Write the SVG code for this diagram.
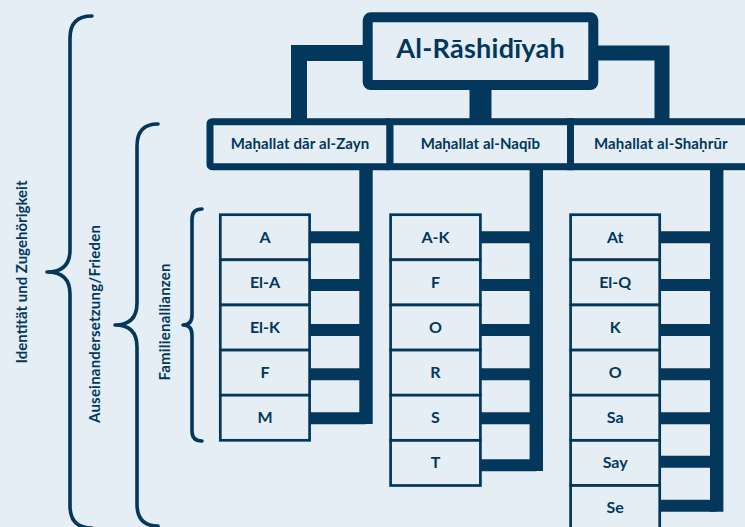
<svg xmlns="http://www.w3.org/2000/svg" width="745" height="527" viewBox="0 0 745 527">
<style>
.bg{fill:#e5eef5}
.box{fill:#e5eef5;stroke:#03375b}
.t{fill:#03375b;font-family:Lato,"Noto Sans","Open Sans",sans-serif;font-weight:700;text-anchor:middle}
.title{font-size:27px}
.l2{font-size:15px}
.l3{font-size:16px}
.side{font-size:15px}
.cell{stroke-width:2.7}
.conn{stroke:#03375b;fill:none;stroke-linecap:butt;stroke-linejoin:miter}
.stub{stroke-width:12}
.bus{stroke-width:13.4}
.brace{stroke:#03375b;fill:none;stroke-width:3.6;stroke-linecap:round;stroke-linejoin:round}
</style>
<rect class="bg" x="0" y="0" width="745" height="527"/>

<g id="connectors">
  <path class="conn" stroke-width="16" d="M370 53 H299 V124"/>
  <path class="conn" stroke-width="15" d="M591 53 H662 V124"/>
  <path class="conn" stroke-width="22" d="M480.5 86 V124"/>
  <path class="conn bus" d="M366 165 V424"/>
  <path class="conn stub" d="M310 237.2 H366 M310 285 H366 M310 330 H366 M310 374.3 H366 M310 418.2 H366"/>
  <path class="conn bus" d="M536.3 165 V471"/>
  <path class="conn stub" d="M480 237.2 H536.3 M480 285 H536.3 M480 330 H536.3 M480 374.3 H536.3 M480 418.2 H536.3 M480 465.2 H536.3"/>
  <path class="conn bus" d="M716.7 165 V511.7"/>
  <path class="conn stub" d="M660 237.2 H716.7 M660 285 H716.7 M660 330 H716.7 M660 374.3 H716.7 M660 418.2 H716.7 M660 461.7 H716.7 M660 505.8 H716.7"/>
</g>

<g id="braces">
  <path class="brace" d="M92 16 Q70 16 70 38 L70 250 Q70 272 47 272 Q70 272 70 294 L70 506 Q70 528 92 528"/>
  <path class="brace" d="M158 124 Q137 124 137 146 L137 303 Q137 325 115 325 Q137 325 137 347 L137 504 Q137 526 158 526"/>
  <path class="brace" d="M202 209 Q192 209 192 219 L192 315 Q192 325 183 325 Q192 325 192 335 L192 431 Q192 441 202 441"/>
</g>

<g id="label-identitaet"><text class="t side" transform="translate(26.5 272) rotate(-90)" textLength="183" lengthAdjust="spacing">Identität und Zugehörigkeit</text></g>
<g id="label-auseinandersetzung"><text class="t side" transform="translate(100 324) rotate(-90)" textLength="198" lengthAdjust="spacing">Auseinandersetzung/Frieden</text></g>
<g id="label-familienallianzen"><text class="t side" transform="translate(170 322) rotate(-90)" textLength="117" lengthAdjust="spacing">Familienallianzen</text></g>

<g id="root">
  <rect class="box" x="367.7" y="17.3" width="225.6" height="67.7" rx="3" stroke-width="10"/>
  <text class="t title" x="480.5" y="58.3" textLength="168.6" lengthAdjust="spacing">Al-Rāshidīyah</text>
</g>

<g id="mahallat-dar-al-zayn">
  <rect class="box" x="210" y="121.7" width="180" height="45" rx="2" stroke-width="7"/>
  <text class="t l2" x="300" y="148.5" textLength="138.6" lengthAdjust="spacing">Maḥallat dār al-Zayn</text>
</g>
<g id="mahallat-al-naqib">
  <rect class="box" x="390" y="121.7" width="180.5" height="45" stroke-width="7"/>
  <text class="t l2" x="480.3" y="148.5" textLength="119.2" lengthAdjust="spacing">Maḥallat al-Naqīb</text>
</g>
<g id="mahallat-al-shahrur">
  <rect class="box" x="570.5" y="121.7" width="190" height="45" stroke-width="7"/>
  <text class="t l2" x="660.8" y="148.5" textLength="133.7" lengthAdjust="spacing">Maḥallat al-Shaḥrūr</text>
</g>

<g id="z-a"><rect class="box cell" x="220.3" y="214.7" width="89.3" height="45.1"/><text class="t l3" x="265" y="242.6">A</text></g>
<g id="z-el-a"><rect class="box cell" x="220.3" y="259.8" width="89.3" height="45.1"/><text class="t l3" x="265" y="287.7">El-A</text></g>
<g id="z-el-k"><rect class="box cell" x="220.3" y="305" width="89.3" height="45.1"/><text class="t l3" x="265" y="332.9">El-K</text></g>
<g id="z-f"><rect class="box cell" x="220.3" y="350.1" width="89.3" height="45.1"/><text class="t l3" x="265" y="378">F</text></g>
<g id="z-m"><rect class="box cell" x="220.3" y="395.2" width="89.3" height="45.1"/><text class="t l3" x="265" y="423.1">M</text></g>

<g id="n-a-k"><rect class="box cell" x="390.6" y="214.7" width="89.8" height="45.1"/><text class="t l3" x="435.5" y="242.6">A-K</text></g>
<g id="n-f"><rect class="box cell" x="390.6" y="259.8" width="89.8" height="45.1"/><text class="t l3" x="435.5" y="287.7">F</text></g>
<g id="n-o"><rect class="box cell" x="390.6" y="305" width="89.8" height="45.1"/><text class="t l3" x="435.5" y="332.9">O</text></g>
<g id="n-r"><rect class="box cell" x="390.6" y="350.1" width="89.8" height="45.1"/><text class="t l3" x="435.5" y="378">R</text></g>
<g id="n-s"><rect class="box cell" x="390.6" y="395.2" width="89.8" height="45.1"/><text class="t l3" x="435.5" y="423.1">S</text></g>
<g id="n-t"><rect class="box cell" x="390.6" y="440.4" width="89.8" height="45.1"/><text class="t l3" x="435.5" y="468.3">T</text></g>

<g id="s-at"><rect class="box cell" x="570.6" y="214.7" width="89.1" height="45.1"/><text class="t l3" x="615.2" y="242.6">At</text></g>
<g id="s-el-q"><rect class="box cell" x="570.6" y="259.8" width="89.1" height="45.1"/><text class="t l3" x="615.2" y="287.7">El-Q</text></g>
<g id="s-k"><rect class="box cell" x="570.6" y="305" width="89.1" height="45.1"/><text class="t l3" x="615.2" y="332.9">K</text></g>
<g id="s-o"><rect class="box cell" x="570.6" y="350.1" width="89.1" height="45.1"/><text class="t l3" x="615.2" y="378">O</text></g>
<g id="s-sa"><rect class="box cell" x="570.6" y="395.2" width="89.1" height="45.1"/><text class="t l3" x="615.2" y="423.1">Sa</text></g>
<g id="s-say"><rect class="box cell" x="570.6" y="440.4" width="89.1" height="45.1"/><text class="t l3" x="615.2" y="468.3">Say</text></g>
<g id="s-se"><rect class="box cell" x="570.6" y="485.5" width="89.1" height="45.1"/><text class="t l3" x="615.2" y="513.4">Se</text></g>
</svg>
